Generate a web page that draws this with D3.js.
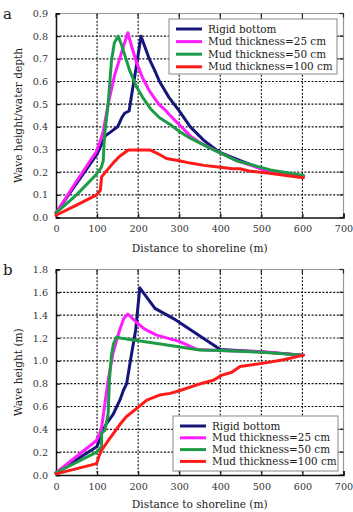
<!DOCTYPE html>
<html>
<head>
<meta charset="utf-8">
<script src="https://cdn.jsdelivr.net/npm/d3@7"></script>
<style>
  body { margin: 0; background: #fff; }
  svg { display: block; }
  text { font-family: "DejaVu Serif", "Liberation Serif", serif; fill: #222; }
</style>
</head>
<body>
<svg id="SVG_CONTAINER" width="353" height="512"></svg>
<script>
// series names and colours
const seriesNames = ["Rigid bottom", "Mud thickness=25 cm", "Mud thickness=50 cm", "Mud thickness=100 cm"];
const seriesColours = ["#15157a", "#ff1cff", "#1d9c48", "#ff1a1a"];

const xTicks = [0, 100, 200, 300, 400, 500, 600, 700];
const yTicksA = [0, 0.1, 0.2, 0.3, 0.4, 0.5, 0.6, 0.7, 0.8, 0.9];
const yTicksB = [0, 0.2, 0.4, 0.6, 0.8, 1.0, 1.2, 1.4, 1.6, 1.8];

// panel a : wave height / water depth
const rigidA = [[0,0.02],[50,0.15],[100,0.28],[120,0.36],[135,0.38],[150,0.40],[160,0.44],[167,0.46],[178,0.47],[185,0.55],[195,0.66],[207,0.80],[215,0.76],[227,0.70],[240,0.65],[252,0.60],[275,0.53],[300,0.47],[327,0.40],[360,0.34],[396,0.29],[450,0.25],[500,0.215],[550,0.195],[603,0.18]];
const mud25A = [[0,0.02],[50,0.16],[98,0.29],[110,0.35],[115,0.38],[127,0.50],[143,0.63],[155,0.70],[165,0.76],[175,0.815],[185,0.75],[195,0.69],[210,0.62],[227,0.56],[250,0.50],[268,0.47],[278,0.45],[300,0.41],[327,0.36],[350,0.33],[394,0.29],[441,0.25],[500,0.215],[550,0.195],[603,0.18]];
const mud50A = [[0,0.02],[50,0.10],[98,0.19],[110,0.22],[115,0.25],[118,0.36],[127,0.50],[135,0.69],[142,0.77],[151,0.80],[160,0.76],[179,0.65],[195,0.58],[211,0.53],[230,0.48],[252,0.44],[278,0.41],[300,0.38],[327,0.35],[376,0.305],[441,0.25],[522,0.21],[603,0.185]];
const mud100A = [[0,0.01],[50,0.055],[99,0.10],[108,0.12],[111,0.18],[125,0.21],[139,0.24],[155,0.27],[176,0.298],[229,0.298],[250,0.28],[269,0.26],[300,0.25],[327,0.24],[360,0.23],[400,0.222],[430,0.215],[448,0.215],[470,0.205],[520,0.195],[560,0.185],[602,0.175]];

// panel b : wave height (m)
const rigidB = [[0,0.02],[100,0.25],[115,0.40],[123,0.45],[139,0.53],[156,0.66],[164,0.74],[172,0.80],[183,1.04],[194,1.27],[204,1.64],[241,1.46],[286,1.37],[400,1.10],[500,1.08],[600,1.05]];
const mud25B = [[0,0.02],[98,0.30],[110,0.39],[127,0.83],[139,1.07],[155,1.27],[165,1.37],[175,1.41],[195,1.34],[215,1.28],[245,1.225],[300,1.17],[343,1.10],[400,1.09],[500,1.08],[600,1.05]];
const mud50B = [[0,0.02],[99,0.20],[111,0.25],[111,0.37],[119,0.39],[127,0.54],[130,0.83],[135,1.05],[140,1.15],[148,1.21],[156,1.20],[250,1.15],[350,1.094],[400,1.09],[500,1.075],[600,1.05]];
const mud100B = [[0,0.01],[99,0.10],[105,0.17],[110,0.21],[125,0.29],[139,0.36],[155,0.44],[171,0.51],[199,0.59],[221,0.656],[252,0.70],[278,0.715],[302,0.74],[343,0.79],[383,0.83],[404,0.875],[428,0.90],[448,0.95],[506,0.98],[554,1.01],[603,1.05]];

const PLOT = { LEFT: 56, RIGHT: 343.5 };

let svg = d3.select("#SVG_CONTAINER");

/**
 * draws one panel of the figure
 */
drawPanel = function(cfg)
{
    let g = svg.append("g");

    let xScale = d3.scaleLinear().domain([0, 700]).range([PLOT.LEFT, PLOT.RIGHT]);
    let yScale = d3.scaleLinear().domain([0, cfg.yMax]).range([cfg.bottom, cfg.top]);

    //** GRID *****************************************
    g.selectAll(".vgrid").data(xTicks.slice(1, -1)).enter().append("line")
        .attr("x1", d => xScale(d)).attr("x2", d => xScale(d))
        .attr("y1", cfg.top).attr("y2", cfg.bottom)
        .style("stroke", "#111").style("stroke-width", 1.1)
        .style("stroke-dasharray", "2,1.6");
    g.selectAll(".hgrid").data(cfg.yTicks.slice(1, -1)).enter().append("line")
        .attr("x1", PLOT.LEFT).attr("x2", PLOT.RIGHT)
        .attr("y1", d => yScale(d)).attr("y2", d => yScale(d))
        .style("stroke", "#111").style("stroke-width", 1.1)
        .style("stroke-dasharray", "2,1.6");

    // frame : grey top/right
    g.append("line").attr("x1", PLOT.LEFT).attr("x2", PLOT.RIGHT).attr("y1", cfg.top).attr("y2", cfg.top)
        .style("stroke", "#999").style("stroke-width", 1.2);
    g.append("line").attr("x1", PLOT.RIGHT).attr("x2", PLOT.RIGHT).attr("y1", cfg.top).attr("y2", cfg.bottom)
        .style("stroke", "#999").style("stroke-width", 1.2);

    // inner ticks on top / right
    g.selectAll(".tt").data(xTicks).enter().append("line")
        .attr("x1", d => xScale(d)).attr("x2", d => xScale(d))
        .attr("y1", cfg.top).attr("y2", cfg.top + 4)
        .style("stroke", "#222").style("stroke-width", 1.2);
    g.selectAll(".rt").data(cfg.yTicks).enter().append("line")
        .attr("x1", PLOT.RIGHT - 4).attr("x2", PLOT.RIGHT)
        .attr("y1", d => yScale(d)).attr("y2", d => yScale(d))
        .style("stroke", "#222").style("stroke-width", 1.2);

    //** AXES *****************************************
    let xAxis = d3.axisBottom(xScale).tickValues(xTicks).tickSize(-4).tickPadding(8)
        .tickFormat(d3.format("d"));
    let xg = g.append("g")
        .attr("transform", "translate(0," + cfg.bottom + ")")
        .call(xAxis);

    let yAxis = d3.axisLeft(yScale).tickValues(cfg.yTicks).tickSize(-4).tickPadding(8)
        .tickFormat(d3.format(".1f"));
    let yg = g.append("g")
        .attr("transform", "translate(" + PLOT.LEFT + ",0)")
        .call(yAxis);

    [xg, yg].forEach(function(a) {
        a.select(".domain").style("stroke", "#111").style("stroke-width", 1.5);
        a.selectAll(".tick line").style("stroke", "#111").style("stroke-width", 1.2);
        a.selectAll(".tick text").style("font-family", "'DejaVu Serif', serif")
            .style("font-size", "9.6px").style("fill", "#333");
    });

    //** LINES *****************************************
    let line = d3.line().x(d => xScale(d[0])).y(d => yScale(d[1]));
    cfg.series.forEach(function(s, i) {
        g.append("path")
            .datum(s)
            .attr("d", line)
            .style("fill", "none")
            .style("stroke", seriesColours[i])
            .style("stroke-width", 3)
            .style("stroke-linejoin", "round")
            .style("stroke-linecap", "round");
    });

    //** LABELS *****************************************
    g.append("text")
        .attr("x", 3).attr("y", cfg.top + 5)
        .style("font-size", "15px")
        .text(cfg.letter);

    g.append("text")
        .attr("text-anchor", "middle")
        .attr("x", (PLOT.LEFT + PLOT.RIGHT) / 2)
        .attr("y", cfg.bottom + cfg.xLabelOffset)
        .style("font-size", "10.6px")
        .text("Distance to shoreline (m)");

    g.append("text")
        .attr("text-anchor", "middle")
        .attr("transform", "translate(22," + ((cfg.top + cfg.bottom) / 2) + ") rotate(-90)")
        .style("font-size", "10.6px")
        .text(cfg.yLabel);

    //** LEGEND *****************************************
    let lg = g.append("g");
    lg.append("rect")
        .attr("x", cfg.legend.x).attr("y", cfg.legend.y)
        .attr("width", cfg.legend.w).attr("height", cfg.legend.h)
        .style("fill", "#fff").style("stroke", "#888").style("stroke-width", 1);
    for (let i = 0; i < seriesNames.length; i++)
    {
        let yy = cfg.legend.y + 10 + i * cfg.legend.step;
        lg.append("line")
            .attr("x1", cfg.legend.x + 7).attr("x2", cfg.legend.x + 33)
            .attr("y1", yy).attr("y2", yy)
            .style("stroke", seriesColours[i]).style("stroke-width", 3);
        lg.append("text")
            .attr("x", cfg.legend.x + 39).attr("y", yy + 3.6)
            .style("font-size", "10.4px")
            .text(seriesNames[i]);
    }
};

drawPanel({
    letter: "a",
    top: 13.5, bottom: 217.5, yMax: 0.9, yTicks: yTicksA,
    series: [rigidA, mud25A, mud50A, mud100A],
    yLabel: "Wave height/water depth",
    xLabelOffset: 34,
    legend: { x: 169, y: 19, w: 168, h: 55, step: 12.6 }
});

drawPanel({
    letter: "b",
    top: 269.5, bottom: 475, yMax: 1.8, yTicks: yTicksB,
    series: [rigidB, mud25B, mud50B, mud100B],
    yLabel: "Wave height (m)",
    xLabelOffset: 32.5,
    legend: { x: 173, y: 416, w: 165, h: 55, step: 11.8 }
});
</script>
</body>
</html>
